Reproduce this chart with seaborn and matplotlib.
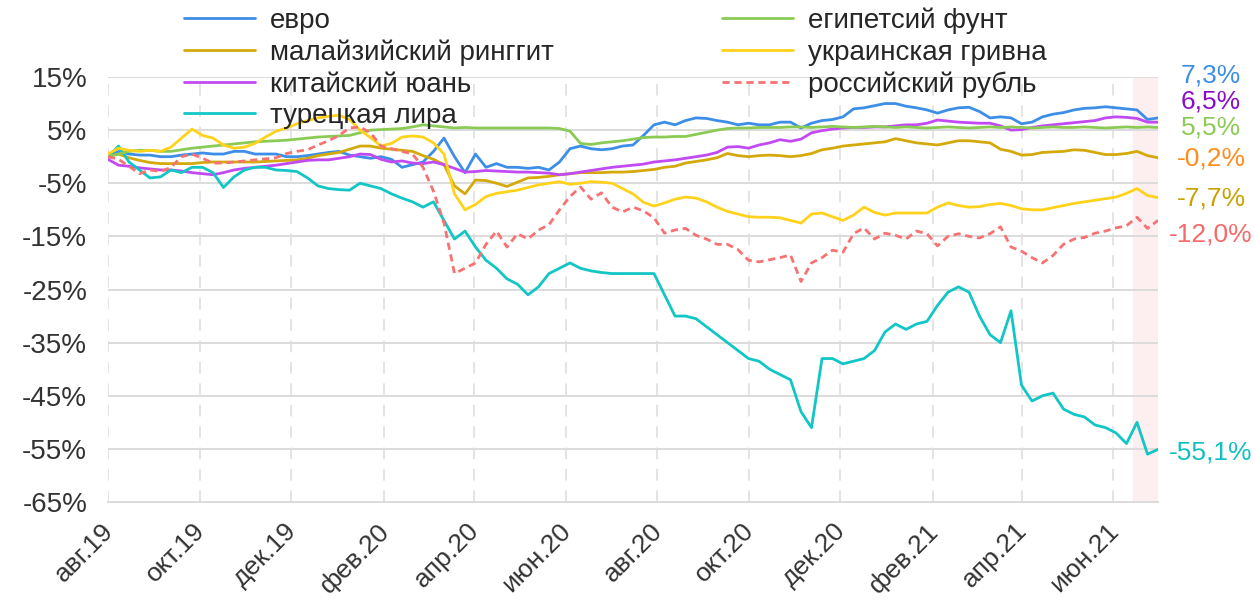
import matplotlib
matplotlib.use("Agg")
import matplotlib.pyplot as plt
import matplotlib.transforms as mtransforms
import seaborn as sns
import pandas as pd

# weekly points, 1 Aug 2019 .. 1 Jul 2021, change vs start, %
dates = pd.date_range("2019-08-01", periods=101, freq="7D")

euro = [0, 1, 0.5, 0.3, 0.3, 0, 0, 0.3, 0.5, 0.7, 0.5, 0.5, 1, 1, 0.5, 0.5, 0.5, 0, 0, 0.2,
        0.5, 0.8, 1, 0.3, 0, -0.3, 0, -0.5, -2, -1.5, -1, 1, 3.5, 0, -3, 0.5, -2, -1.3, -2, -2,
        -2.2, -2, -2.5, -1, 1.5, 2, 1.5, 1.3, 1.5, 2, 2.2, 4, 6, 6.5, 6, 6.8, 7.3, 7.2, 6.8, 6.5,
        6, 6.3, 6, 6, 6.5, 6.5, 5.4, 6.3, 6.8, 7, 7.5, 9, 9.2, 9.6, 10, 10, 9.5, 9.2, 8.8, 8.2,
        8.8, 9.2, 9.3, 8.5, 7.3, 7.5, 7.3, 6.2, 6.5, 7.5, 8, 8.3, 8.8, 9.1, 9.2, 9.4, 9.2, 9, 8.8, 7,
        7.3]
egp = [0, 0.5, 1.0, 1.2, 1.2, 1.0, 1.0, 1.3, 1.6, 1.8, 2.0, 2.2, 2.4, 2.6, 2.8, 2.9, 3.0, 3.1, 3.3, 3.5,
       3.7, 3.8, 3.9, 4.0, 4.5, 5.0, 5.1, 5.2, 5.3, 5.6, 6.0, 5.8, 5.6, 5.4, 5.5, 5.4, 5.4, 5.4, 5.4, 5.4,
       5.4, 5.4, 5.4, 5.3, 4.8, 2.5, 2.3, 2.6, 2.8, 3.0, 3.3, 3.6, 3.7, 3.7, 3.8, 3.8, 4.2, 4.6, 5.0, 5.3,
       5.4, 5.4, 5.5, 5.5, 5.5, 5.6, 5.6, 5.5, 5.6, 5.7, 5.6, 5.5, 5.6, 5.7, 5.6, 5.5, 5.6, 5.5, 5.4, 5.5,
       5.6, 5.5, 5.4, 5.5, 5.6, 5.5, 5.6, 5.5, 5.4, 5.5, 5.6, 5.5, 5.5, 5.6, 5.5, 5.4, 5.5, 5.6, 5.5, 5.6,
       5.5]
myr = [0, 0.5, -0.2, -0.7, -1.1, -1.3, -1.3, -1.3, -1.3, -1.1, -1.0, -1.0, -1.0, -1.0, -1.0, -0.9, -0.8, -0.7, -0.6, -0.3,
       0.2, 0.5, 0.8, 1.4, 2.0, 2.0, 1.6, 1.4, 1.2, 1.0, 0.2, -0.5, -1.5, -5.5, -7.0, -4.4, -4.5, -5.0, -5.6, -4.8,
       -4.0, -3.9, -3.7, -3.4, -3.2, -3.0, -3.0, -3.0, -2.9, -2.9, -2.8, -2.6, -2.4, -2.0, -1.8, -1.2, -0.9, -0.6, -0.2, 0.6,
       0.2, 0.0, 0.2, 0.3, 0.2, 0.0, 0.2, 0.6, 1.3, 1.6, 2.0, 2.2, 2.4, 2.6, 2.8, 3.4, 3.0, 2.6, 2.4, 2.2,
       2.6, 3.0, 3.0, 2.8, 2.6, 1.4, 1.0, 0.3, 0.4, 0.8, 0.9, 1.0, 1.3, 1.2, 0.8, 0.4, 0.4, 0.6, 1.0, 0.2,
       -0.2]
uah = [0.5, 1.6, 1.2, 1.0, 1.2, 1.0, 1.8, 3.5, 5.2, 4.0, 3.5, 2.2, 1.6, 1.8, 2.5, 3.7, 4.8, 5.4, 6.2, 6.8,
       7.3, 7.6, 7.8, 7.0, 5.0, 3.6, 2.0, 2.5, 3.7, 3.9, 3.7, 2.6, 0.5, -7.0, -10.0, -9.0, -7.5, -6.9, -6.6, -6.3,
       -5.8, -5.3, -5.0, -4.7, -5.2, -5.0, -4.7, -4.8, -5.0, -6.0, -7.0, -8.6, -9.3, -8.7, -8.0, -7.6, -7.8, -8.5, -9.5, -10.3,
       -10.8, -11.3, -11.4, -11.4, -11.5, -12.0, -12.5, -10.8, -10.6, -11.3, -12.0, -11.0, -9.5, -10.5, -11.0, -10.6, -10.6, -10.6, -10.6, -9.5,
       -8.7, -9.2, -9.5, -9.4, -9.0, -8.8, -9.2, -9.8, -10.0, -10.0, -9.6, -9.2, -8.8, -8.5, -8.2, -7.9, -7.6, -6.9, -6.0, -7.3,
       -7.7]
cny = [-0.5, -1.6, -1.8, -2.1, -2.3, -2.5, -2.5, -2.7, -3.0, -3.2, -3.4, -3.0, -2.5, -2.2, -2.0, -1.8, -1.6, -1.3, -1.0, -0.7,
       -0.6, -0.6, -0.3, 0.0, 0.5, 0.4, -0.5, -1.0, -0.8, -1.2, -1.3, -1.0, -1.5, -2.2, -2.9, -2.8, -2.6, -2.7, -2.8, -2.9,
       -2.9, -3.0, -3.1, -3.4, -3.2, -2.9, -2.6, -2.3, -2.0, -1.8, -1.6, -1.4, -1.0, -0.8, -0.6, -0.3, 0.0, 0.3, 0.8, 1.8,
       1.9, 1.6, 2.2, 2.6, 3.2, 2.9, 3.3, 4.5, 4.9, 5.2, 5.4, 5.5, 5.5, 5.6, 5.6, 5.8, 6.0, 6.0, 6.3, 6.9,
       6.7, 6.5, 6.4, 6.3, 6.3, 5.8, 5.0, 5.1, 5.5, 5.8, 6.0, 6.2, 6.4, 6.6, 6.8, 7.3, 7.5, 7.4, 7.2, 6.5,
       6.5]
rub = [0, -0.5, -1.8, -3.2, -2.5, -2.8, -2.0, 0.0, 0.5, -0.3, -1.2, -1.2, -1.0, -0.8, -0.6, -0.4, -0.2, 0.6, 1.0, 1.3,
       2.2, 3.0, 4.0, 5.4, 5.6, 4.5, 2.0, 1.5, 1.0, 0.5, -2.0, -6.5, -12.5, -22.0, -21.0, -20.0, -16.5, -14.0, -17.0, -14.5,
       -15.5, -13.8, -12.8, -10.0, -7.5, -5.7, -8.0, -6.8, -9.5, -10.4, -9.5, -10.2, -11.5, -14.4, -13.8, -13.5, -14.8, -15.5, -16.5, -16.5,
       -17.5, -19.5, -19.8, -19.4, -19.0, -18.5, -23.5, -20.0, -19.0, -17.6, -18.0, -14.5, -13.4, -15.5, -14.4, -14.8, -15.5, -14.0, -14.5, -16.8,
       -15.0, -14.5, -15.0, -15.3, -14.5, -13.2, -17.0, -17.8, -19.0, -20.0, -18.6, -16.5, -15.5, -15.2, -14.4, -14.0, -13.4, -13.0, -11.4, -13.5,
       -12.0]
tryl = [0, 2.0, -1, -2.5, -4, -3.8, -2.5, -3, -2, -2, -3, -5.8, -3.8, -2.5, -2, -2, -2.5, -2.6, -2.8, -4,
        -5.5, -6, -6.2, -6.3, -5, -5.5, -6, -7, -7.8, -8.5, -9.5, -8.5, -12, -15.5, -14, -17, -19.5, -21, -23, -24,
        -26, -24.5, -22, -21, -20, -21, -21.5, -21.8, -22, -22, -22, -22, -22, -26, -30, -30, -30.5, -32, -33.5, -35,
        -36.5, -38, -38.5, -40, -41, -42, -48, -51, -38, -38, -39, -38.5, -38, -36.5, -33, -31.5, -32.5, -31.5, -31, -28,
        -25.5, -24.5, -25.5, -30, -33.5, -35, -29, -43, -46, -45, -44.5, -47.5, -48.5, -49, -50.5, -51, -52, -54, -50, -56,
        -55.1]

names = ["евро", "малайзийский ринггит", "китайский юань", "турецкая лира",
         "египетсий фунт", "украинская гривна", "российский рубль"]
series = [euro, myr, cny, tryl, egp, uah, rub]
colors = ["#3d8ee6", "#d4a90c", "#c24af2", "#12c6c6", "#8bcb55", "#ffd21c", "#f77272"]

end_labels = ["7,3%", "6,5%", "5,5%", "-0,2%", "-7,7%", "-12,0%", "-55,1%"]
end_colors = ["#3d8ee6", "#8a0cc8", "#8bcb55", "#ff8c1a", "#c9a200", "#f56a6a", "#12c0c0"]
end_y = [15.2, 10.3, 5.4, -0.3, -7.8, -14.7, -55.7]

tick_dates = pd.date_range("2019-08-01", "2021-06-01", freq="2MS")
tick_names = ["авг.19", "окт.19", "дек.19", "фев.20", "апр.20", "июн.20",
              "авг.20", "окт.20", "дек.20", "фев.21", "апр.21", "июн.21"]
y_ticks = [15, 5, -5, -15, -25, -35, -45, -55, -65]

sns.set_theme(style="white")
plt.rcParams["font.family"] = ["Liberation Sans", "DejaVu Sans"]

fig = plt.figure(figsize=(12.55, 6), dpi=100)
ax = fig.add_axes([108 / 1255, 98 / 600, 1050 / 1255, 425 / 600])

ax.axvspan(pd.Timestamp("2021-06-14"), pd.Timestamp("2021-07-01"), color="#fdeef0", zorder=0)

for name, vals, col in zip(names, series, colors):
    ls = (0, (2.6, 1.7)) if name == "российский рубль" else "-"
    sns.lineplot(x=dates, y=vals, ax=ax, color=col, linewidth=2.0, linestyle=ls, label=name)

ax.set_xlim(pd.Timestamp("2019-08-01"), pd.Timestamp("2021-07-01"))
ax.set_ylim(-65, 15)
ax.set_yticks(y_ticks)
ax.set_yticklabels([f"{v}%" for v in y_ticks])
ax.set_xticks(tick_dates)
ax.set_xticklabels(tick_names, rotation=45, ha="right", rotation_mode="anchor")
ax.set_xlabel("")
ax.set_ylabel("")

ax.grid(axis="y", color="#dcdcdc", linewidth=1.4, linestyle="-")
ax.grid(axis="x", color="#e4e4e4", linewidth=1.4, linestyle=(0, (6, 5)))
for s in ["top", "right", "left"]:
    ax.spines[s].set_visible(False)
ax.spines["bottom"].set_color("#dcdcdc")
ax.spines["bottom"].set_linewidth(1.4)
ax.tick_params(axis="y", length=7, width=1.4, color="#dcdcdc", labelsize=20, labelcolor="#333333", pad=8)
ax.tick_params(axis="x", length=0, labelsize=19, labelcolor="#333333", pad=12)

# nudge the rotated date labels a little to the left
shift = mtransforms.ScaledTranslation(-7 / 100, 0, fig.dpi_scale_trans)
for lbl in ax.get_xticklabels():
    lbl.set_transform(lbl.get_transform() + shift)

trans = mtransforms.blended_transform_factory(ax.transAxes, ax.transData)
for txt, col, yv in zip(end_labels, end_colors, end_y):
    ax.text(1.0505, yv, txt, color=col, fontsize=19, ha="center", va="center", transform=trans, clip_on=False)

ax.get_legend().remove()
handles, labels = ax.get_legend_handles_labels()
fig.legend(handles, labels, ncol=2, loc="upper left", bbox_to_anchor=(173 / 1255, 1.006),
           frameon=False, fontsize=20, handlelength=2.55, handletextpad=0.55,
           columnspacing=6.05, labelspacing=0.2, borderaxespad=0)

fig.savefig("out.png", dpi=100)
